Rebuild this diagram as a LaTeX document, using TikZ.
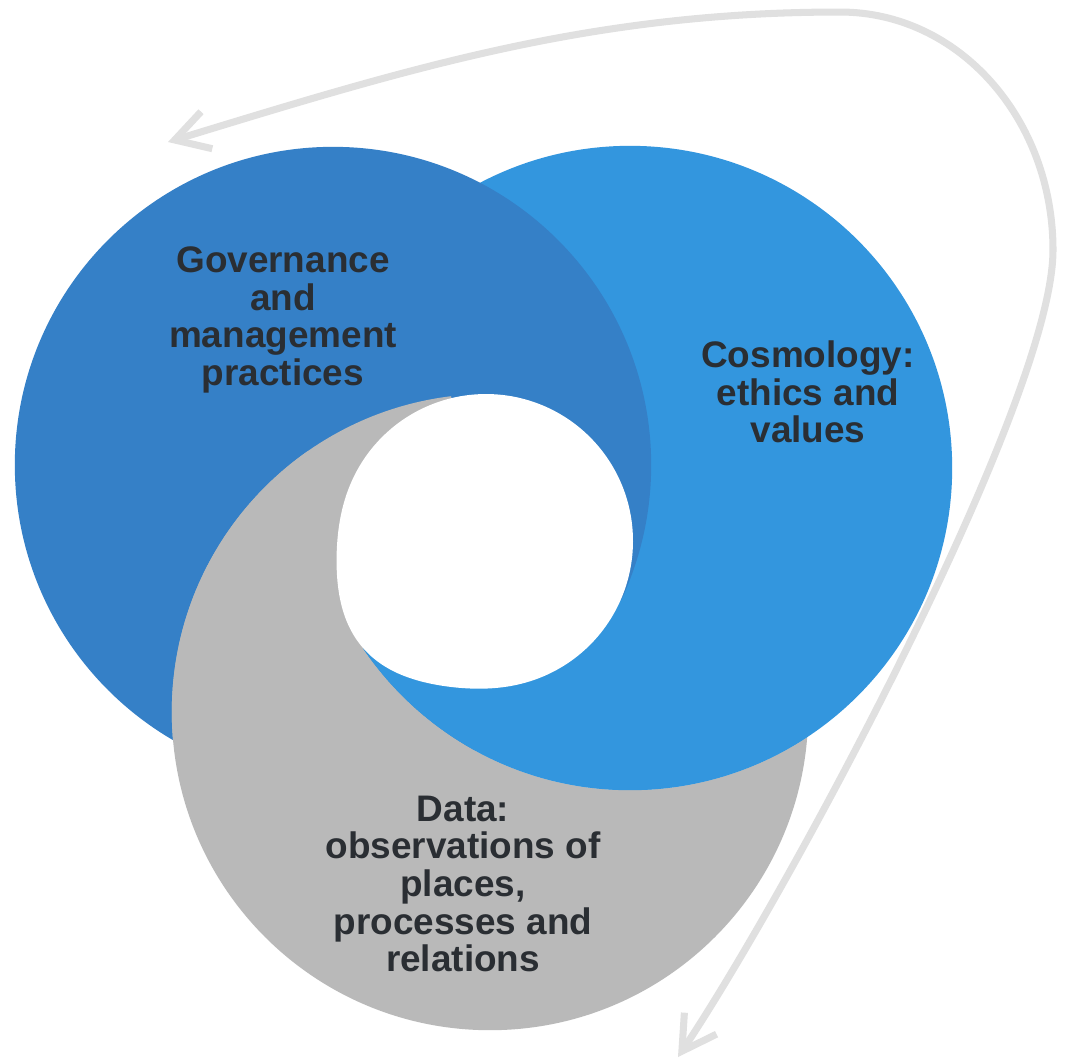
\documentclass[tikz,border=0pt]{standalone}
\usepackage{fontspec}
\setmainfont{Liberation Sans}
\usetikzlibrary{arrows.meta}
\definecolor{govblue}{HTML}{3580C7}
\definecolor{cosblue}{HTML}{3396DE}
\definecolor{datagray}{HTML}{B9B9B9}
\definecolor{arrowgray}{HTML}{E0E0E0}
\definecolor{textdark}{HTML}{2A2E33}
\begin{document}
\begin{tikzpicture}[x=0.01cm,y=-0.01cm,
  circletext/.style={align=center,text=textdark,inner sep=0pt,
    font=\bfseries\fontsize{10.5pt}{10.7pt}\selectfont},
  cyclearrow/.style={draw=arrowgray,line width=2pt,
    {Straight Barb[length=9.5pt,width=11pt]}-{Straight Barb[length=9.5pt,width=11pt]}}]
\useasboundingbox (0,0) rectangle (1066,1062);
\fill[white] (0,0) rectangle (1066,1062);
% centres
\coordinate (cG) at (333,465);
\coordinate (cC) at (630,468);
\coordinate (cD) at (490,712);
\coordinate (H) at (486,541);
% arrow coordinates
\coordinate (A) at (168,142);
\coordinate (T) at (840,12);
\coordinate (R) at (1053,250);
\coordinate (B) at (678,1057);
\draw[cyclearrow] (A) .. controls (407,69) and (590,12) .. (T)
  .. controls (960,12) and (1053,120) .. (R)
  .. controls (1053,400) and (789,891) .. (B);
% circles with cyclic overlap
\fill[cosblue] (cC) circle[radius=3.22cm];
\fill[govblue] (cG) circle[radius=3.18cm];
\begin{scope}[even odd rule]
  \clip (-100,-100) rectangle (1200,1200) (cC) circle[radius=3.22cm];
  \fill[datagray] (cD) circle[radius=3.18cm];
\end{scope}
\begin{scope}
  \clip (cC) circle[radius=3.22cm];
  \clip (cD) circle[radius=3.18cm];
  \clip (H) -- (117,862) -- (117,1200) -- (1200,1200) -- (1200,836) -- (1161,836) -- cycle;
  \fill[cosblue] (cD) circle[radius=3.18cm];
\end{scope}
\begin{scope}
  \clip (cG) circle[radius=3.18cm];
  \clip (H) -- (117,862) -- (-100,862) -- (-100,-55) -- (342,-55) -- cycle;
  \fill[datagray] (cD) circle[radius=3.18cm];
\end{scope}
% central hole
\fill[white] plot[domain=0:360, samples=145, smooth cycle]
  ({486+(147+16*(max(0,cos(\x-139)))^8)*cos(\x)},
   {541+(147+16*(max(0,cos(\x-139)))^8)*sin(\x)});
% labels
\node[circletext] (gov) at (283,320) {Governance\\and\\management\\practices};
\node[circletext] (cos) at (808,392) {Cosmology:\\ethics and\\values};
\node[circletext] (data) at (463,884) {Data:\\observations of\\places,\\processes and\\relations};
\end{tikzpicture}
\end{document}
